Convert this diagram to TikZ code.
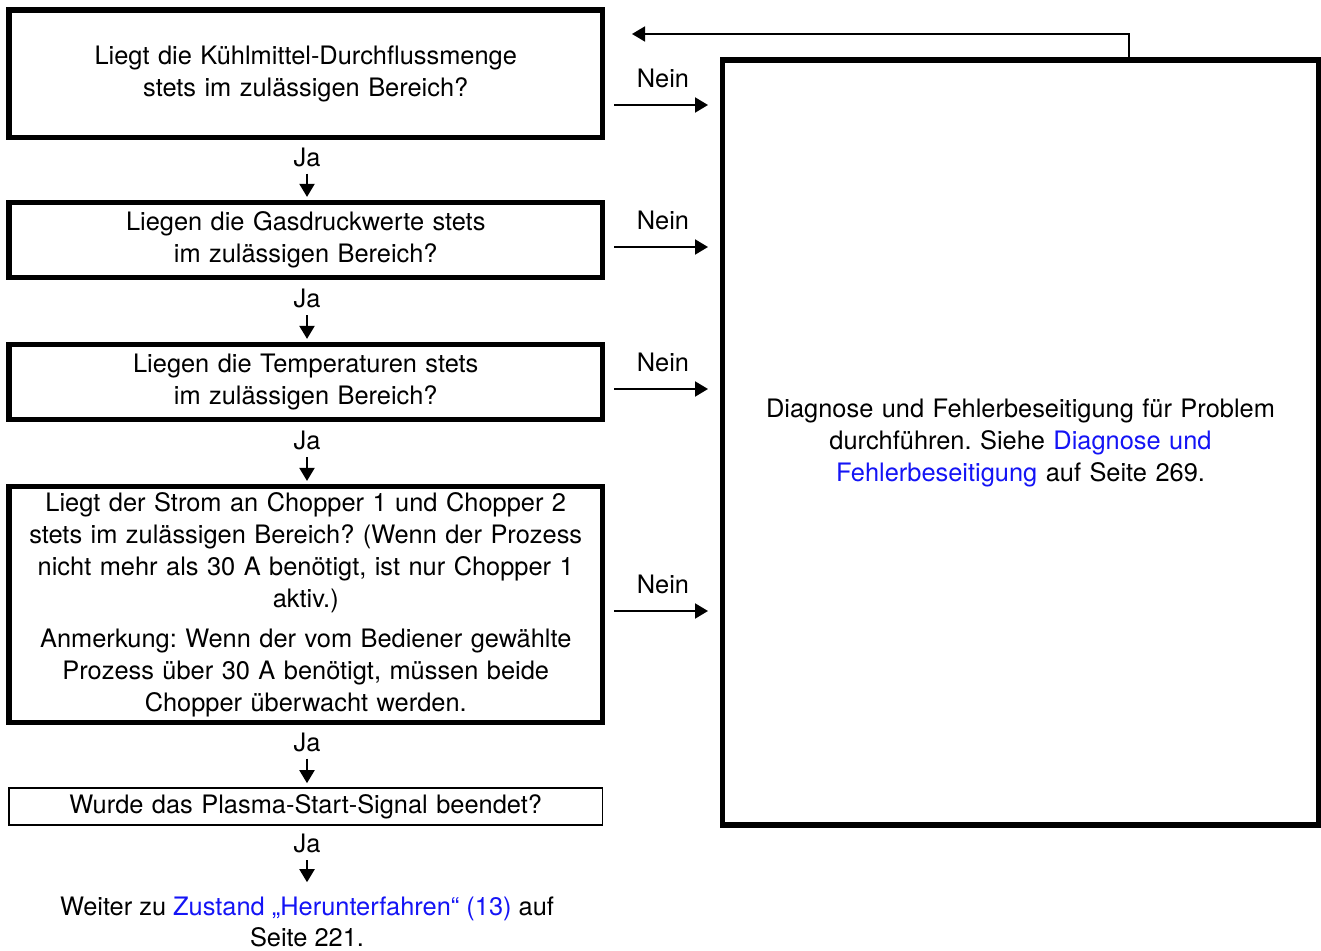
\documentclass[tikz,border=0pt]{standalone}
\usepackage{fontspec}
\setmainfont{TeX Gyre Heros}
\usetikzlibrary{arrows.meta}
\definecolor{linkblue}{RGB}{20,20,245}
\frenchspacing

\begin{document}
\begin{tikzpicture}[x = 0.5pt, y = -0.5pt,
                        font = \fontsize{12.7}{16}\selectfont,
                        bigbox/.style = {draw, line width = 2.75pt, inner sep = 0pt, outer sep = 0pt,
                                         text width = 296.75pt, align = center},
                        thinbox/.style = {draw, line width = 0.8pt, inner sep = 0pt, outer sep = 0pt,
                                          text width = 296.75pt, minimum height = 18.5pt, align = center},
                        arr/.style = {line width = 1pt, -{Triangle[length = 6.5pt, width = 7.5pt]}}]
    \useasboundingbox (0, 0) rectangle (1321, 951);
    % questions on the left
    \node [bigbox, minimum height = 63.75pt] (q1) at (305.75, 73.75)
        {Liegt die Kühlmittel-Durchflussmenge\\stets im zulässigen Bereich?};
    \node [bigbox, minimum height = 37.5pt] (q2) at (305.75, 240)
        {Liegen die Gasdruckwerte stets\\im zulässigen Bereich?};
    \node [bigbox, minimum height = 37.5pt] (q3) at (305.75, 382)
        {Liegen die Temperaturen stets\\im zulässigen Bereich?};
    \node [bigbox, minimum height = 118pt] (q4) at (305.75, 604.5)
        {Liegt der Strom an Chopper 1 und Chopper 2\\stets im zulässigen Bereich? (Wenn der Prozess\\nicht mehr als 30 A benötigt, ist nur Chopper 1\\aktiv.)\\[4pt]
         Anmerkung: Wenn der vom Bediener gewählte\\Prozess über 30 A benötigt, müssen beide\\Chopper überwacht werden.};
    \node [thinbox] (q5) at (305.75, 806.5) {Wurde das Plasma-Start-Signal beendet?};
    \node [align = center, font = \fontsize{12.7}{15.2}\selectfont] (weiter) at (307, 922)
        {Weiter zu \textcolor{linkblue}{Zustand „Herunterfahren“ (13)} auf\\Seite 221.};
    % troubleshooting box on the right
    \node [bigbox, text width = 298pt, minimum height = 382.5pt] (diag) at (1020.5, 442.5)
        {Diagnose und Fehlerbeseitigung für Problem\\durchführen. Siehe \textcolor{linkblue}{Diagnose und}\\\textcolor{linkblue}{Fehlerbeseitigung} auf Seite 269.};
    % yes branches
    \node (ja1) at (307, 157) {Ja};
    \node (ja2) at (307, 298.5) {Ja};
    \node (ja3) at (307, 440.5) {Ja};
    \node (ja4) at (307, 742) {Ja};
    \node (ja5) at (307, 843.5) {Ja};
    \draw [arr, shorten > = 2.8pt] (ja1) -- (ja1 |- q2.north);
    \draw [arr, shorten > = 2.8pt] (ja2) -- (ja2 |- q3.north);
    \draw [arr, shorten > = 2.8pt] (ja3) -- (ja3 |- q4.north);
    \draw [arr, shorten > = 2.4pt] (ja4) -- (ja4 |- q5.north);
    \draw [arr, shorten > = 4pt] (ja5) -- (ja5 |- weiter.north);
    % no branches
    \node (nein1) at (663, 78) {Nein};
    \node (nein2) at (663, 220) {Nein};
    \node (nein3) at (663, 362) {Nein};
    \node (nein4) at (663, 584) {Nein};
    \draw [arr, shorten < = 5.75pt, shorten > = 7.25pt] (q1.east |- 0, 105) -- (diag.west |- 0, 105);
    \draw [arr, shorten < = 5.75pt, shorten > = 7.25pt] (q2.east |- 0, 247) -- (diag.west |- 0, 247);
    \draw [arr, shorten < = 5.75pt, shorten > = 7.25pt] (q3.east |- 0, 389) -- (diag.west |- 0, 389);
    \draw [arr, shorten < = 5.75pt, shorten > = 7.25pt] (q4.east |- 0, 611) -- (diag.west |- 0, 611);
    % back to the start
    \coordinate (knick) at (1129, 34);
    \coordinate (back) at (632, 34);
    \draw [arr, line width = 0.9pt] (diag.north -| knick) -- (knick) -- (back);
\end{tikzpicture}
\end{document}
